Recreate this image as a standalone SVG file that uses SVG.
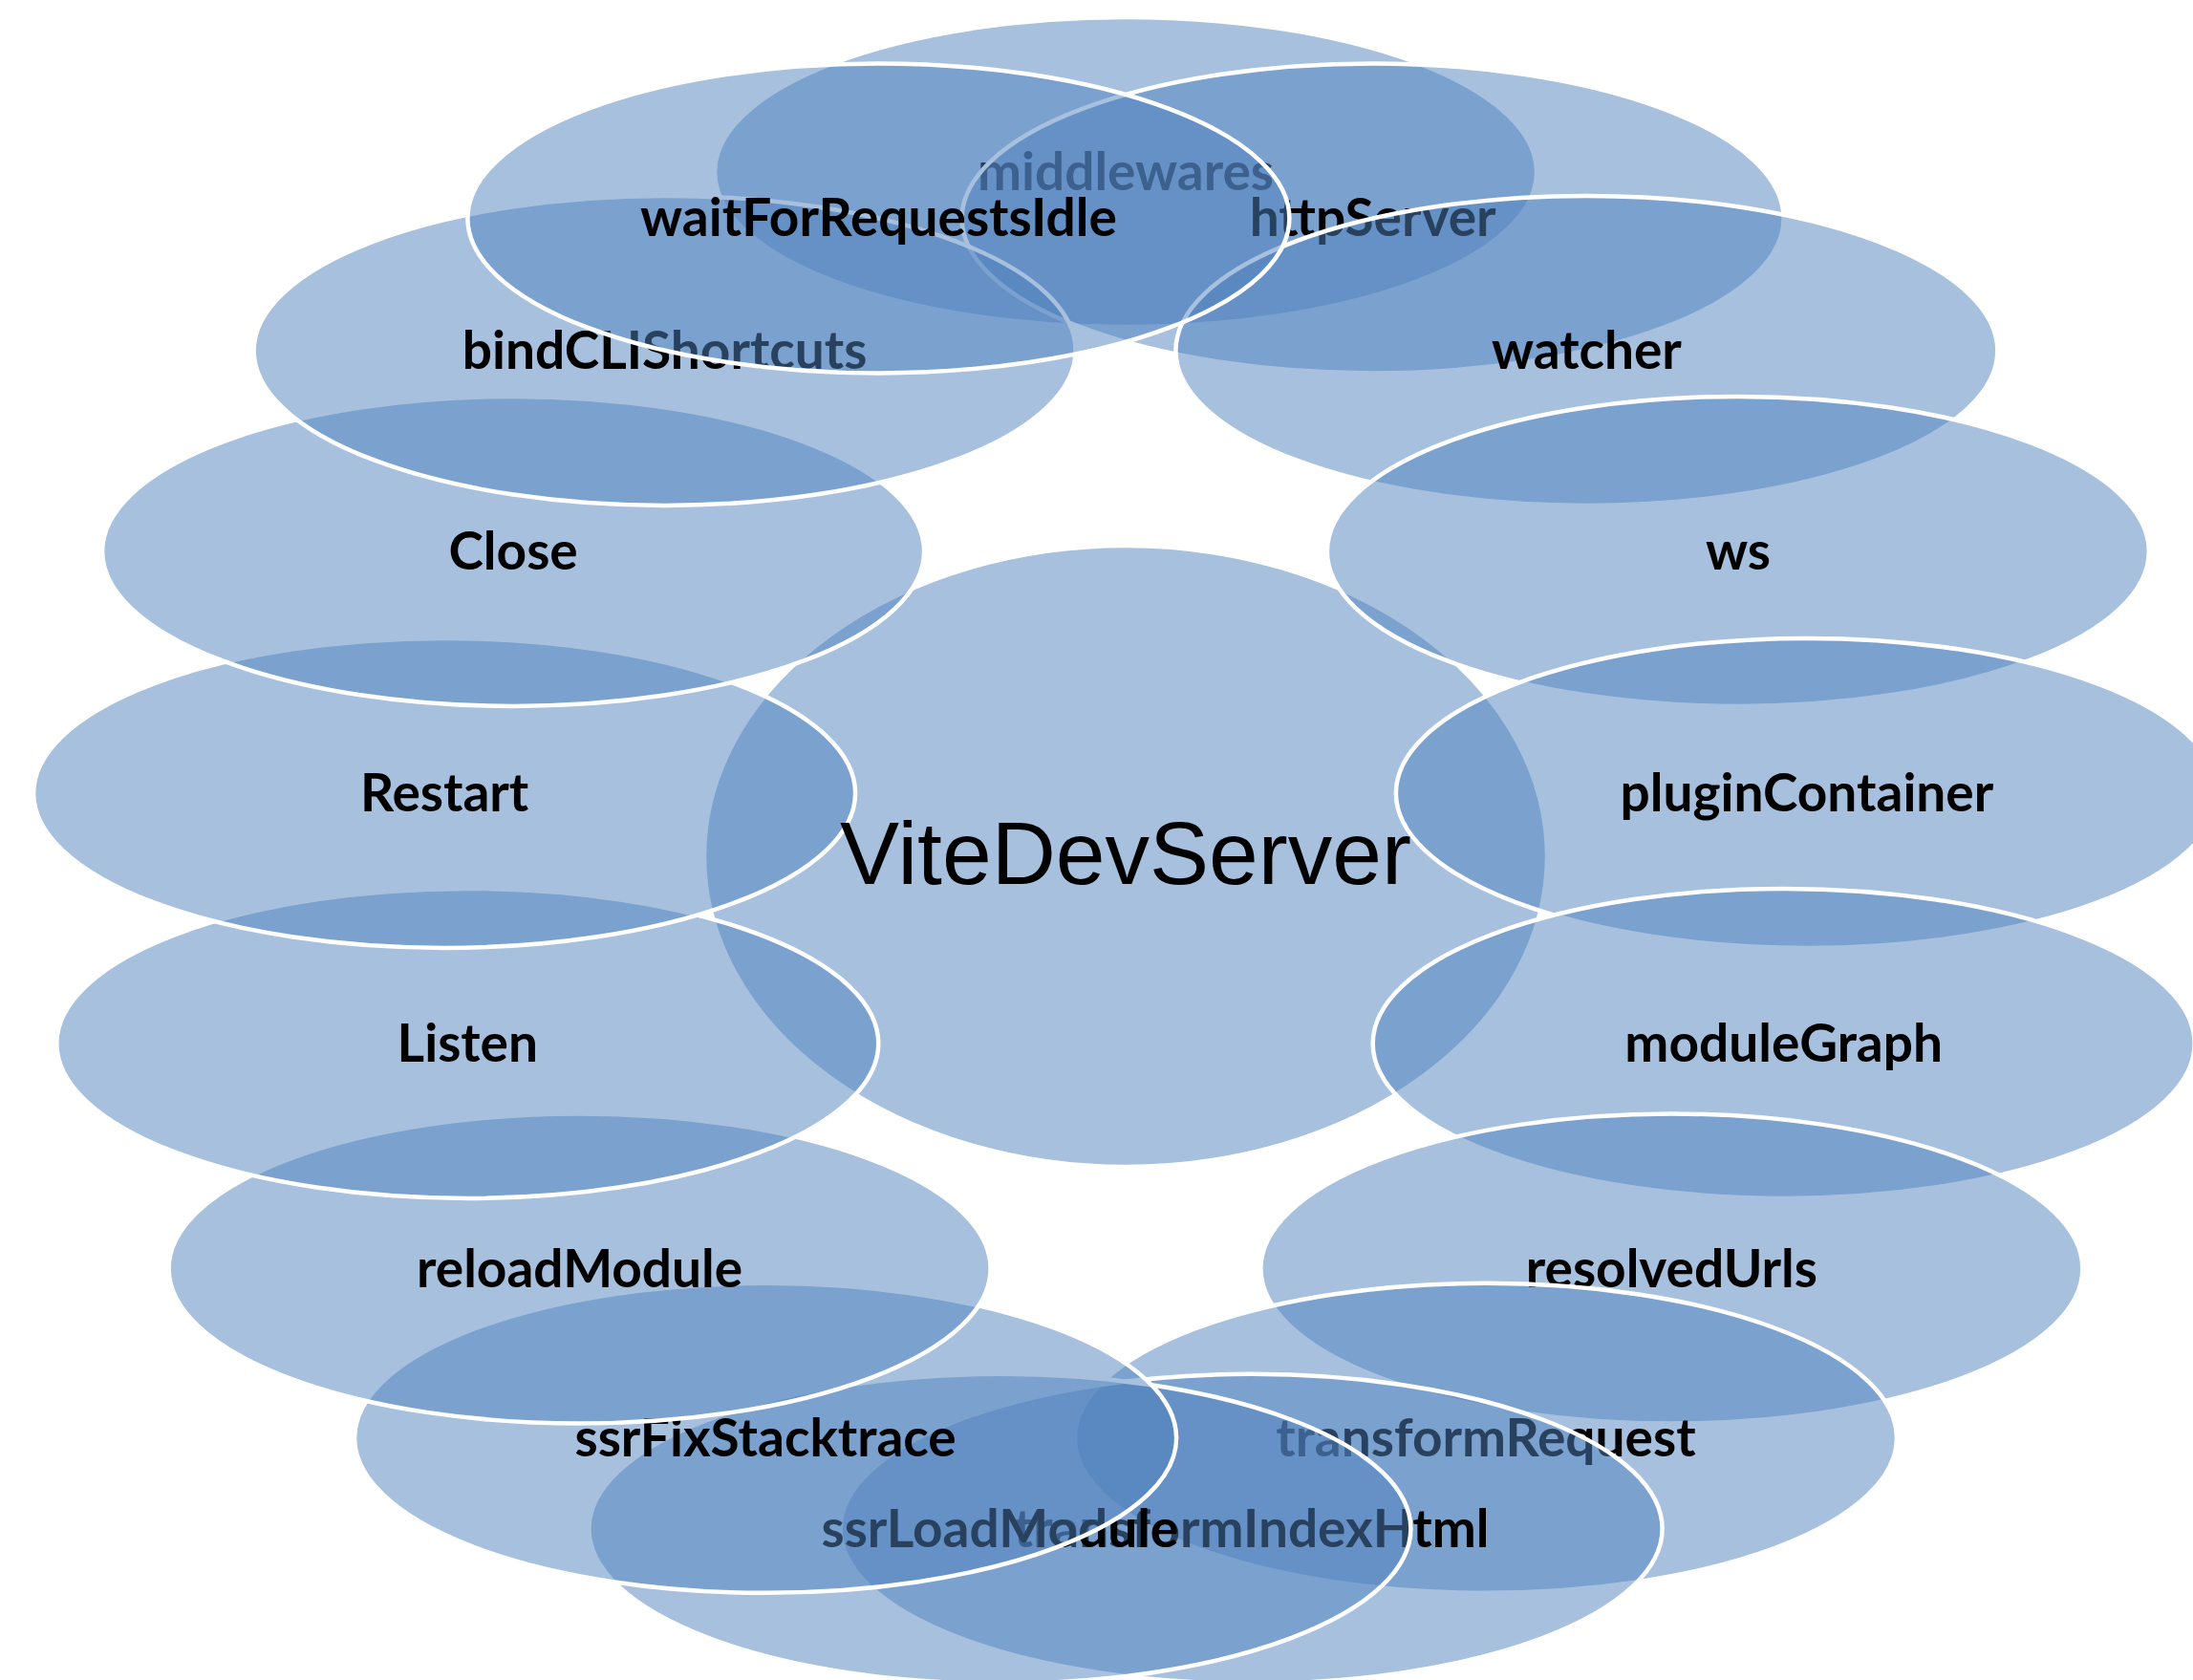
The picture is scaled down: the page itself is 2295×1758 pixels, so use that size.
<svg xmlns="http://www.w3.org/2000/svg" width="2295" height="1758" viewBox="0 0 2295 1758">
<style>
.e{fill:#4F81BD;fill-opacity:0.5;stroke:#FFFFFF;stroke-width:4.5}
.t{font-family:Lato,"Liberation Sans",sans-serif;font-weight:bold;font-size:55px;fill:#000000;text-anchor:middle}
.c{font-family:"Liberation Sans",Arial,sans-serif;font-size:93px;fill:#000000;text-anchor:middle}
</style>
<rect width="2295" height="1758" fill="#FFFFFF"/>
<g id="connectors"/>
<g id="center"><ellipse class="e" cx="1178" cy="896" rx="441" ry="325"/></g>
<g id="n0"><ellipse class="e" cx="1178" cy="180" rx="430" ry="162"/><text class="t" x="1178" y="199">middlewares</text></g>
<g id="n1"><ellipse class="e" cx="1436.6" cy="228.4" rx="430" ry="162"/><text class="t" x="1436.6" y="247.4">httpServer</text></g>
<g id="n2"><ellipse class="e" cx="1660.4" cy="366.9" rx="430" ry="162"/><text class="t" x="1660.4" y="385.9">watcher</text></g>
<g id="n3"><ellipse class="e" cx="1818.9" cy="576.9" rx="430" ry="162"/><text class="t" x="1818.9" y="595.9">ws</text></g>
<g id="n4"><ellipse class="e" cx="1890.9" cy="829.9" rx="430" ry="162"/><text class="t" x="1890.9" y="848.9">pluginContainer</text></g>
<g id="n5"><ellipse class="e" cx="1866.7" cy="1091.9" rx="430" ry="162"/><text class="t" x="1866.7" y="1110.9">moduleGraph</text></g>
<g id="n6"><ellipse class="e" cx="1749.4" cy="1327.5" rx="430" ry="162"/><text class="t" x="1749.4" y="1346.5">resolvedUrls</text></g>
<g id="n7"><ellipse class="e" cx="1554.9" cy="1504.8" rx="430" ry="162"/><text class="t" x="1554.9" y="1523.8">transformRequest</text></g>
<g id="n8"><ellipse class="e" cx="1309.6" cy="1599.8" rx="430" ry="162"/><text class="t" x="1309.6" y="1618.8">transformIndexHtml</text></g>
<g id="n9"><ellipse class="e" cx="1046.4" cy="1599.8" rx="430" ry="162"/><text class="t" x="1046.4" y="1618.8">ssrLoadModule</text></g>
<g id="n10"><ellipse class="e" cx="801.1" cy="1504.8" rx="430" ry="162"/><text class="t" x="801.1" y="1523.8">ssrFixStacktrace</text></g>
<g id="n11"><ellipse class="e" cx="606.6" cy="1327.5" rx="430" ry="162"/><text class="t" x="606.6" y="1346.5">reloadModule</text></g>
<g id="n12"><ellipse class="e" cx="489.3" cy="1091.9" rx="430" ry="162"/><text class="t" x="489.3" y="1110.9">Listen</text></g>
<g id="n13"><ellipse class="e" cx="465.1" cy="829.9" rx="430" ry="162"/><text class="t" x="465.1" y="848.9">Restart</text></g>
<g id="n14"><ellipse class="e" cx="537.1" cy="576.9" rx="430" ry="162"/><text class="t" x="537.1" y="595.9">Close</text></g>
<g id="n15"><ellipse class="e" cx="695.6" cy="366.9" rx="430" ry="162"/><text class="t" x="695.6" y="385.9">bindCLIShortcuts</text></g>
<g id="n16"><ellipse class="e" cx="919.4" cy="228.4" rx="430" ry="162"/><text class="t" x="919.4" y="247.4">waitForRequestsIdle</text></g>
<g id="center-label"><text class="c" x="1178" y="925">ViteDevServer</text></g>
</svg>
